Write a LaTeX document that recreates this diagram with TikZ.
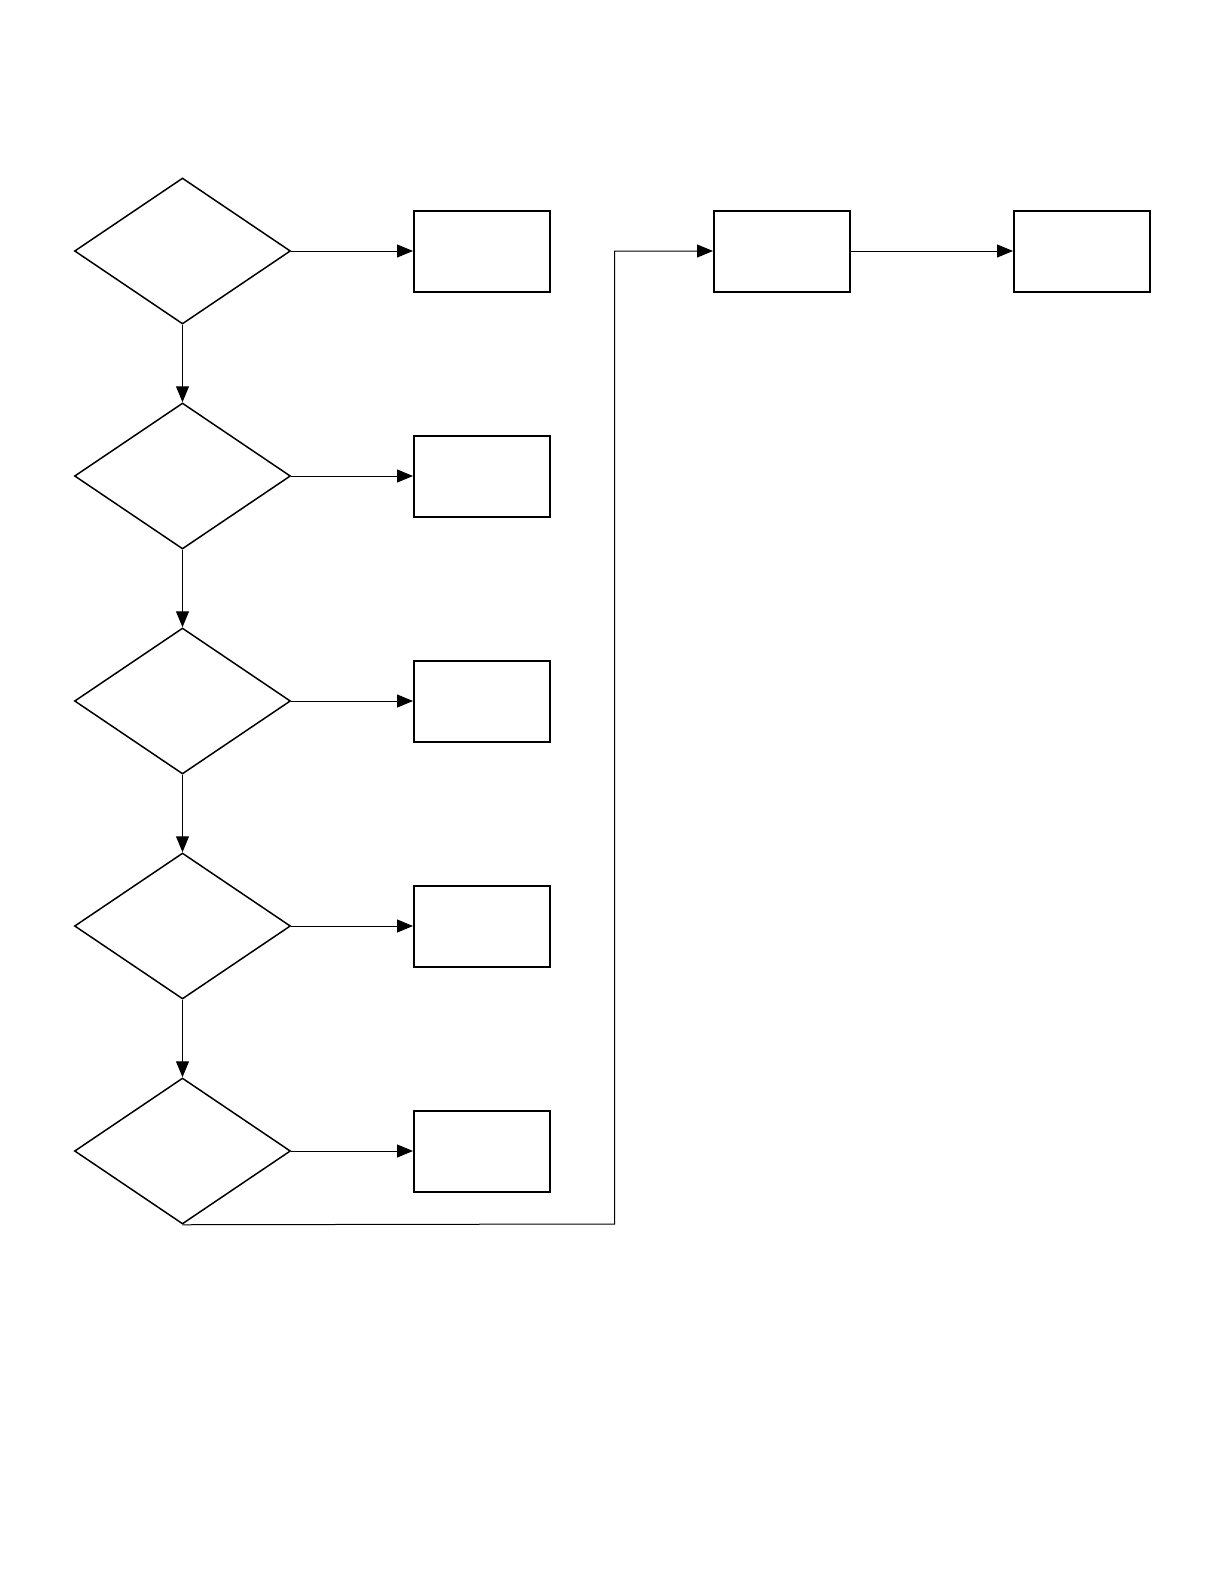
\documentclass[tikz,border=0pt]{standalone}
\usetikzlibrary{shapes.geometric,arrows.meta}
\begin{document}
\begin{tikzpicture}[x=0.5pt,y=-0.5pt,
  dec/.style={draw,shape=diamond,inner sep=0pt,minimum width=108pt,minimum height=73pt,line width=0.75pt},
  proc/.style={draw,rectangle,inner sep=0pt,minimum width=68pt,minimum height=40.5pt,line width=1pt},
  conn/.style={line width=0.5pt,-{Triangle[length=8pt,width=6.5pt]}}]
\useasboundingbox (0,0) rectangle (1224,1584);
\foreach \i/\y in {1/251,2/476,3/701,4/926,5/1151}{
  \node[dec] (d\i) at (182.5,\y) {};
  \node[proc] (b\i) at (482,\y) {};
  \draw[conn] (d\i.east) -- (b\i.west);
}
\foreach \i/\j in {1/2,2/3,3/4,4/5}{
  \draw[conn] (d\i.south) -- (d\j.north);
}
\node[proc] (m) at (782,251) {};
\node[proc] (e) at (1082,251) {};
\coordinate (c1) at (614.5,1224);
\coordinate (c2) at (614.5,251);
\draw[conn] (d5.south) -- (c1) -- (c2) -- (m.west);
\draw[conn] (m.east) -- (e.west);
\end{tikzpicture}
\end{document}
